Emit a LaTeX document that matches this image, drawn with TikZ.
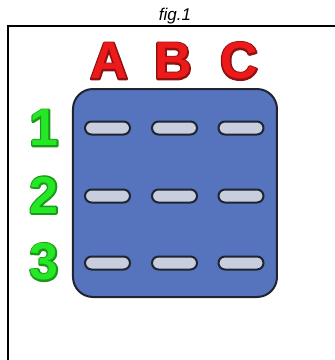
\documentclass[tikz,border=0pt]{standalone}
\usepackage{fontspec}
\setsansfont{Liberation Sans}
\usepackage{tikz}
\usetikzlibrary{positioning}
\definecolor{gridblue}{HTML}{5574BD}
\definecolor{gridedge}{HTML}{1F2430}
\definecolor{slotgray}{HTML}{C9CEDE}
\definecolor{colred}{HTML}{EE1A1A}
\definecolor{rowgreen}{HTML}{24E824}
% outlined letters: a stroked copy under a filled one
\newcommand{\rimtext}[3]{\rlap{\special{pdf:literal 1 Tr 3.2 w 1 j #2 RG}#3\special{pdf:literal 0 Tr}}\textcolor{#1}{#3}}

\begin{document}
\begin{tikzpicture}[
  x=1pt,y=-1pt,
  plate/.style={draw=gridedge,line width=2pt,fill=gridblue,rounded corners=20pt,
                minimum width=204pt,minimum height=208pt,inner sep=0pt},
  slot/.style={draw=gridedge,line width=2pt,fill=slotgray,rounded corners=6.5pt,
               minimum width=45pt,minimum height=13pt,inner sep=0pt},
  biglabel/.style={inner sep=0pt,font=\sffamily\bfseries\fontsize{52}{52}\selectfont},
]
\useasboundingbox[fill=white] (0,0) rectangle (335,360);

% caption and frame
\node[font=\sffamily\itshape\fontsize{17}{17}\selectfont] (title) at (175,16) {fig.1};
\coordinate (framebl) at (8,360);
\coordinate (frametl) at (8,26);
\coordinate (frametr) at (335,26);
\draw[line width=2pt,line cap=rect] (framebl) -- (frametl) -- (frametr);

% the plate
\node[plate] (plate) at (175,193) {};

% column and row labels
\foreach \c/\x in {A/109,B/173,C/239}
  \node[biglabel] (col\c) at (\x,61) {\rimtext{colred}{0.557 0.071 0.071}{\c}};
\foreach \r/\y in {1/128,2/195,3/262}
  \node[biglabel] (row\r) at (44,\y) {\rimtext{rowgreen}{0.102 0.604 0.102}{\r}};

% the nine slots
\foreach \r/\y in {1/128,2/196,3/263}
  \foreach \c/\x in {A/107.5,B/174.5,C/241}
    \node[slot] (slot\c\r) at (\x,\y) {};

\end{tikzpicture}
\end{document}
